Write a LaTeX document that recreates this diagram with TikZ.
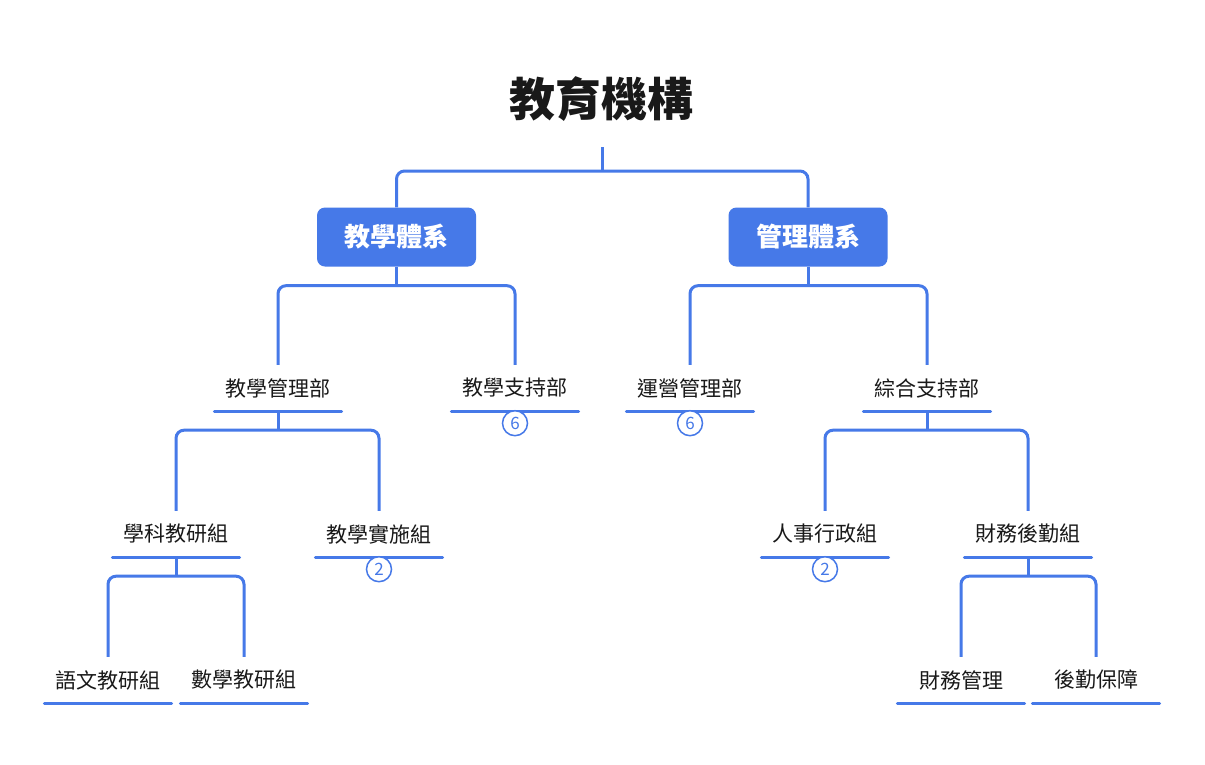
\documentclass[tikz,border=0pt]{standalone}
\usepackage{fontspec}
\setmainfont{Noto Sans CJK TC}
\usetikzlibrary{positioning, calc}
\definecolor{colBlue}{RGB}{70,121,232}
\definecolor{colText}{RGB}{25,25,25}
\tikzset{
    titlenode/.style={font=\fontsize{46}{50}\selectfont\bfseries, text=colText,
        minimum height=96pt, inner sep=0pt},
    sysbox/.style={rectangle, fill=colBlue, rounded corners=8pt, text=white,
        minimum width=159pt, minimum height=59pt, inner sep=0pt,
        font=\fontsize{26}{30}\selectfont\bfseries},
    unit/.style={rectangle, minimum width=127pt, minimum height=46pt, inner sep=0pt,
        text=colText, font=\fontsize{21}{24}\selectfont,
        append after command={
            (\tikzlastnode.south west) edge[line width=3pt, draw=colBlue, line cap=round]
            (\tikzlastnode.south east)}},
    badge/.style={circle, draw=colBlue, line width=1.5pt, fill=white, text=colBlue,
        minimum size=25pt, inner sep=0pt, font=\fontsize{17}{18}\selectfont},
    link/.style={draw=colBlue, line width=3pt, rounded corners=8pt}
}
\begin{document}
\begin{tikzpicture}[x=1pt, y=-1pt]
    \useasboundingbox[fill=white] (0,0) rectangle (1205,764);

    \node[titlenode] (jigou) at (601,99) {教育機構};

    % first level
    \node[sysbox] (jxtx) at (396.5,237) {教學體系};
    \node[sysbox] (gltx) at (808,237) {管理體系};

    % second level
    \node[unit] (jxgl) at (278,388) {教學管理部};
    \node[unit] (jxzc) at (515,388) {教學支持部};
    \node[unit] (yygl) at (690,388) {運營管理部};
    \node[unit] (zhzc) at (927,388) {綜合支持部};

    % third level
    \node[unit] (xkjy) at (176,534) {學科教研組};
    \node[unit] (jxss) at (379,534) {教學實施組};
    \node[unit] (rsxz) at (825,534) {人事行政組};
    \node[unit] (cwhq) at (1028,534) {財務後勤組};

    % fourth level
    \node[unit] (ywjy) at (108,680) {語文教研組};
    \node[unit] (sxjy) at (244,680) {數學教研組};
    \node[unit] (cwgl) at (961,680) {財務管理};
    \node[unit] (hqbz) at (1096,680) {後勤保障};

    % collapsed counts
    \node[badge] (jxzcn) at ($(jxzc.south)+(0,12)$) {6};
    \node[badge] (yygln) at ($(yygl.south)+(0,12)$) {6};
    \node[badge] (jxssn) at ($(jxss.south)+(0,12)$) {2};
    \node[badge] (rsxzn) at ($(rsxz.south)+(0,12)$) {2};

    % branch points
    \coordinate (jigoub) at (602,171);
    \coordinate (jxtxb) at ($(jxtx.south)+(0,19)$);
    \coordinate (gltxb) at ($(gltx.south)+(0,19)$);
    \coordinate (jxglb) at ($(jxgl.south)+(0,19)$);
    \coordinate (zhzcb) at ($(zhzc.south)+(0,19)$);
    \coordinate (xkjyb) at ($(xkjy.south)+(0,19)$);
    \coordinate (cwhqb) at ($(cwhq.south)+(0,19)$);

    \draw[link] (602,147) -- (jigoub);
    \draw[link] (jxtx.north) |- (jigoub) -| (gltx.north);

    \draw[link] (jxtx.south) -- (jxtxb);
    \draw[link] (jxgl.north) |- (jxtxb) -| (jxzc.north);
    \draw[link] (gltx.south) -- (gltxb);
    \draw[link] (yygl.north) |- (gltxb) -| (zhzc.north);

    \draw[link] (jxgl.south) -- (jxglb);
    \draw[link] (xkjy.north) |- (jxglb) -| (jxss.north);
    \draw[link] (zhzc.south) -- (zhzcb);
    \draw[link] (rsxz.north) |- (zhzcb) -| (cwhq.north);

    \draw[link] (xkjy.south) -- (xkjyb);
    \draw[link] (ywjy.north) |- (xkjyb) -| (sxjy.north);
    \draw[link] (cwhq.south) -- (cwhqb);
    \draw[link] (cwgl.north) |- (cwhqb) -| (hqbz.north);

\end{tikzpicture}
\end{document}
